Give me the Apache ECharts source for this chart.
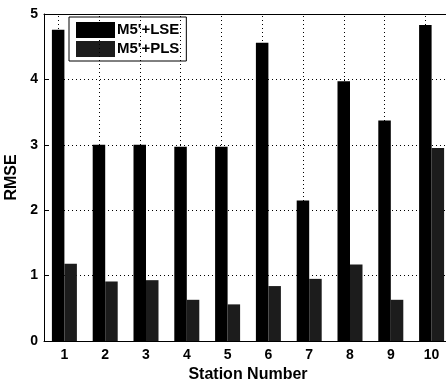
<!DOCTYPE html>
<html>
<head>
<meta charset="utf-8">
<script src="https://cdn.jsdelivr.net/npm/echarts@6/dist/echarts.min.js"></script>
<style>html,body{margin:0;padding:0;background:#fff}#c{width:446px;height:385px}</style>
</head>
<body>
<div id="c"></div>
<script>
const stations = ['1','2','3','4','5','6','7','8','9','10'];
const lseValues = [4.76, 3.00, 3.00, 2.97, 2.97, 4.56, 2.15, 3.97, 3.37, 4.83];
const plsValues = [1.18, 0.91, 0.93, 0.63, 0.56, 0.84, 0.95, 1.17, 0.63, 2.95];
const yTicks = [0, 1, 2, 3, 4, 5];

const font = 'Liberation Sans, Arial, sans-serif';
const chart = echarts.init(document.getElementById('c'));
chart.setOption({
  animation: false,
  backgroundColor: '#fff',
  grid: { left: 44, top: 14, width: 408, height: 327, containLabel: false, outerBoundsMode: 'none' },
  legend: {
    orient: 'vertical', left: 69, top: 17,
    padding: [5, 7, 4, 7], itemGap: 3,
    itemWidth: 39, itemHeight: 16,
    borderColor: '#000', borderWidth: 1, backgroundColor: '#fff',
    textStyle: { fontFamily: font, fontWeight: 'bold', fontSize: 15, color: '#000', padding: [0, 0, 0, -3] },
    data: [{ name: "M5'+LSE", icon: 'rect' }, { name: "M5'+PLS", icon: 'rect' }]
  },
  xAxis: [{
    type: 'category', data: stations, position: 'bottom',
    name: 'Station Number', nameLocation: 'middle', nameGap: 25,
    nameTextStyle: { fontFamily: font, fontWeight: 'bold', fontSize: 16, color: '#000' },
    axisLine: { lineStyle: { color: '#000', width: 1 } },
    axisTick: { inside: true, alignWithLabel: true, length: 4, lineStyle: { color: '#000' } },
    axisLabel: { fontFamily: font, fontWeight: 'bold', fontSize: 14, color: '#000', margin: 7 },
    splitLine: { show: false }
  }, {
    type: 'category', data: stations, position: 'top',
    axisLine: { lineStyle: { color: '#000', width: 1 } },
    axisTick: { inside: true, alignWithLabel: true, length: 4, lineStyle: { color: '#000' } },
    axisLabel: { show: false },
    splitLine: { show: false }
  }],
  yAxis: {
    type: 'value', min: 0, max: 5, interval: 1,
    name: 'RMSE', nameLocation: 'middle', nameGap: 21, nameRotate: 90,
    nameTextStyle: { fontFamily: font, fontWeight: 'bold', fontSize: 16, color: '#000' },
    axisLine: { show: true, lineStyle: { color: '#000', width: 1 } },
    axisTick: { show: true, inside: true, length: 4, lineStyle: { color: '#000' } },
    axisLabel: { fontFamily: font, fontWeight: 'bold', fontSize: 14, color: '#000', margin: 6,
      formatter: v => yTicks.includes(v) ? String(v) : '' },
    splitLine: { show: true, lineStyle: { color: '#000', type: [1, 3], width: 1 } }
  },
  series: [{
    name: "M5'+LSE", type: 'bar', data: lseValues,
    barWidth: 12.5, barGap: '0%',
    itemStyle: { color: '#000' },
    markLine: {
      silent: true, symbol: ['none', 'none'], label: { show: false },
      lineStyle: { color: '#000', type: [1, 3], width: 1 },
      data: stations.map(s => ({ xAxis: s }))
    }
  }, {
    name: "M5'+PLS", type: 'bar', data: plsValues,
    barWidth: 12.5, barGap: '0%',
    itemStyle: { color: '#1c1c1c' }
  }]
});
</script>
</body>
</html>
